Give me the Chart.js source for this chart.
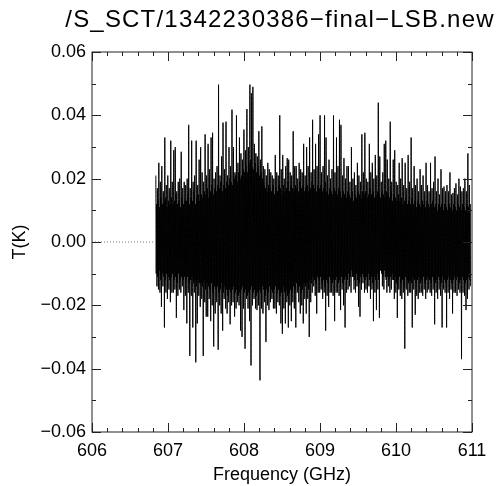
<!DOCTYPE html>
<html>
<head>
<meta charset="utf-8">
<script src="https://cdn.jsdelivr.net/npm/chart.js@4.4.1/dist/chart.umd.min.js"></script>
<style>
  html, body { margin: 0; padding: 0; background: #fff; }
  #wrap { width: 500px; height: 486px; }
</style>
</head>
<body>
<div id="wrap"><canvas id="spectrum"></canvas></div>
<script>
// spectrum title and axis text
var plotTitle = '/S_SCT/1342230386\u2212final\u2212LSB.new';
var xTitle = 'Frequency (GHz)';
var yTitle = 'T(K)';

// axis ranges / tick steps
var xMin = 606, xMax = 611, xStep = 1, xMinor = 0.2;
var yMin = -0.06, yMax = 0.06, yStep = 0.02, yMinor = 0.01;

// channel grid of the LSB spectrum (GHz)
var freqStart = 606.84, freqEnd = 610.98;

// blanked part of the band, drawn as a dotted zero line
var blankFreq = [606.0, 606.84];
var blankT = [0, 0];

// per channel bin: highest sample (K)
var peaks = [
  0.021, 0.017, 0.025, 0.019, 0.024, 0.016, 0.033, 0.018, 0.021, 0.017,
  0.032, 0.019, 0.029, 0.030, 0.016, 0.019, 0.020, 0.0285, 0.017, 0.019,
  0.018, 0.020, 0.037, 0.017, 0.032, 0.019, 0.021, 0.032, 0.018, 0.026,
  0.030, 0.022, 0.019, 0.034, 0.021, 0.031, 0.023, 0.033, 0.0345, 0.020,
  0.022, 0.024, 0.0497, 0.021, 0.027, 0.0377, 0.023, 0.038, 0.021, 0.030,
  0.024, 0.0418, 0.030, 0.022, 0.040, 0.025, 0.033, 0.028, 0.026, 0.0355,
  0.029, 0.042, 0.030, 0.0497, 0.047, 0.049, 0.031, 0.028, 0.027, 0.035,
  0.026, 0.0365, 0.024, 0.023, 0.021, 0.025, 0.023, 0.022, 0.021, 0.020,
  0.0275, 0.022, 0.021, 0.040, 0.023, 0.0275, 0.020, 0.024, 0.0265, 0.026,
  0.022, 0.021, 0.035, 0.024, 0.024, 0.020, 0.025, 0.023, 0.022, 0.031,
  0.021, 0.030, 0.024, 0.033, 0.022, 0.0386, 0.023, 0.031, 0.024, 0.034,
  0.040, 0.022, 0.024, 0.040, 0.033, 0.021, 0.026, 0.020, 0.023, 0.040,
  0.022, 0.033, 0.024, 0.0386, 0.037, 0.021, 0.0265, 0.020, 0.024, 0.024,
  0.019, 0.030, 0.020, 0.022, 0.018, 0.025, 0.021, 0.019, 0.034, 0.022,
  0.0345, 0.020, 0.019, 0.031, 0.022, 0.025, 0.020, 0.0275, 0.021, 0.044,
  0.027, 0.019, 0.022, 0.031, 0.032, 0.026, 0.020, 0.038, 0.019, 0.026,
  0.029, 0.019, 0.018, 0.025, 0.020, 0.0265, 0.018, 0.025, 0.017, 0.0275,
  0.019, 0.033, 0.017, 0.024, 0.018, 0.020, 0.016, 0.023, 0.018, 0.021,
  0.016, 0.025, 0.018, 0.016, 0.025, 0.017, 0.019, 0.027, 0.016, 0.020,
  0.015, 0.023, 0.017, 0.0175, 0.016, 0.018, 0.016, 0.022, 0.015, 0.0155,
  0.017, 0.0185, 0.015, 0.020, 0.0175, 0.016, 0.017, 0.020, 0.016, 0.028,
  0.018
];

// per channel bin: lowest sample (K)
var dips = [
  -0.014, -0.015, -0.016, -0.0205, -0.014, -0.027, -0.016, -0.018, -0.015, -0.019,
  -0.016, -0.016, -0.015, -0.024, -0.017, -0.015, -0.016, -0.014, -0.0215, -0.017,
  -0.0257, -0.016, -0.036, -0.017, -0.027, -0.016, -0.038, -0.0257, -0.017, -0.0205,
  -0.018, -0.036, -0.019, -0.0236, -0.0236, -0.018, -0.025, -0.020, -0.033, -0.0226,
  -0.019, -0.034, -0.020, -0.0226, -0.028, -0.018, -0.021, -0.0226, -0.019, -0.026,
  -0.020, -0.019, -0.0236, -0.021, -0.019, -0.020, -0.028, -0.030, -0.021, -0.0337,
  -0.018, -0.021, -0.025, -0.039, -0.020, -0.018, -0.021, -0.0215, -0.020, -0.0437,
  -0.021, -0.0226, -0.019, -0.0316, -0.020, -0.0215, -0.019, -0.018, -0.021, -0.021,
  -0.0226, -0.019, -0.020, -0.0257, -0.029, -0.021, -0.0257, -0.019, -0.027, -0.020,
  -0.025, -0.019, -0.021, -0.027, -0.016, -0.019, -0.0226, -0.020, -0.0257, -0.018,
  -0.0226, -0.018, -0.030, -0.019, -0.016, -0.014, -0.017, -0.0226, -0.016, -0.016,
  -0.015, -0.018, -0.016, -0.028, -0.017, -0.0205, -0.016, -0.016, -0.017, -0.025,
  -0.016, -0.016, -0.017, -0.0215, -0.015, -0.020, -0.027, -0.016, -0.015, -0.014,
  -0.016, -0.011, -0.015, -0.016, -0.014, -0.0205, -0.0236, -0.015, -0.013, -0.016,
  -0.015, -0.016, -0.014, -0.018, -0.015, -0.025, -0.016, -0.0215, -0.015, -0.024,
  -0.009, -0.014, -0.015, -0.011, -0.016, -0.014, -0.016, -0.015, -0.012, -0.018,
  -0.016, -0.024, -0.015, -0.017, -0.018, -0.016, -0.0337, -0.015, -0.017, -0.016,
  -0.016, -0.027, -0.015, -0.023, -0.017, -0.018, -0.016, -0.016, -0.017, -0.015,
  -0.018, -0.016, -0.015, -0.016, -0.017, -0.015, -0.026, -0.016, -0.018, -0.015,
  -0.017, -0.027, -0.015, -0.016, -0.027, -0.016, -0.018, -0.015, -0.0226, -0.016,
  -0.016, -0.017, -0.015, -0.016, -0.037, -0.016, -0.017, -0.0215, -0.018, -0.015,
  -0.014
];

// per channel bin: upper edge of the dense core (K)
var corePeaks = [
  0.012, 0.013, 0.011, 0.014, 0.012, 0.013, 0.014, 0.011, 0.013, 0.012,
  0.014, 0.012, 0.013, 0.015, 0.012, 0.013, 0.011, 0.014, 0.012, 0.013,
  0.013, 0.015, 0.012, 0.014, 0.013, 0.016, 0.012, 0.014, 0.015, 0.013,
  0.015, 0.014, 0.016, 0.015, 0.017, 0.014, 0.016, 0.018, 0.015, 0.017,
  0.016, 0.018, 0.017, 0.019, 0.016, 0.018, 0.017, 0.019, 0.018, 0.020,
  0.019, 0.018, 0.020, 0.021, 0.019, 0.022, 0.020, 0.021, 0.023, 0.022,
  0.024, 0.022, 0.025, 0.026, 0.024, 0.023, 0.025, 0.022, 0.024, 0.021,
  0.022, 0.020, 0.018, 0.017, 0.016, 0.018, 0.017, 0.016, 0.018, 0.015,
  0.017, 0.016, 0.018, 0.017, 0.015, 0.018, 0.016, 0.017, 0.019, 0.016,
  0.018, 0.017, 0.016, 0.018, 0.017, 0.016, 0.019, 0.017, 0.018, 0.016,
  0.017, 0.018, 0.016, 0.017, 0.019, 0.018, 0.017, 0.016, 0.018, 0.017,
  0.018, 0.016, 0.017, 0.019, 0.016, 0.015, 0.017, 0.016, 0.015, 0.017,
  0.016, 0.015, 0.017, 0.016, 0.014, 0.016, 0.015, 0.014, 0.016, 0.015,
  0.014, 0.016, 0.013, 0.015, 0.014, 0.016, 0.015, 0.014, 0.016, 0.015,
  0.016, 0.014, 0.015, 0.017, 0.015, 0.016, 0.014, 0.015, 0.016, 0.015,
  0.014, 0.016, 0.015, 0.014, 0.016, 0.015, 0.014, 0.016, 0.013, 0.015,
  0.014, 0.013, 0.015, 0.013, 0.014, 0.012, 0.013, 0.014, 0.012, 0.013,
  0.012, 0.014, 0.012, 0.013, 0.011, 0.013, 0.012, 0.011, 0.013, 0.012,
  0.011, 0.013, 0.012, 0.011, 0.012, 0.013, 0.011, 0.012, 0.010, 0.012,
  0.011, 0.012, 0.010, 0.012, 0.011, 0.010, 0.012, 0.011, 0.010, 0.012,
  0.011, 0.010, 0.012, 0.011, 0.010, 0.012, 0.011, 0.010, 0.012, 0.011,
  0.012
];

// per channel bin: lower edge of the dense core (K)
var coreDips = [
  -0.010, -0.011, -0.009, -0.012, -0.010, -0.011, -0.012, -0.010, -0.011, -0.012,
  -0.011, -0.010, -0.012, -0.011, -0.013, -0.010, -0.012, -0.011, -0.012, -0.011,
  -0.012, -0.011, -0.013, -0.012, -0.011, -0.013, -0.012, -0.014, -0.012, -0.013,
  -0.013, -0.014, -0.012, -0.015, -0.013, -0.014, -0.015, -0.013, -0.016, -0.014,
  -0.015, -0.014, -0.016, -0.015, -0.013, -0.016, -0.014, -0.015, -0.017, -0.015,
  -0.016, -0.015, -0.014, -0.016, -0.015, -0.017, -0.016, -0.015, -0.014, -0.016,
  -0.015, -0.017, -0.016, -0.015, -0.014, -0.016, -0.015, -0.017, -0.016, -0.015,
  -0.016, -0.014, -0.015, -0.017, -0.015, -0.016, -0.014, -0.015, -0.016, -0.015,
  -0.014, -0.016, -0.015, -0.017, -0.016, -0.014, -0.016, -0.015, -0.017, -0.016,
  -0.015, -0.016, -0.014, -0.015, -0.013, -0.015, -0.014, -0.016, -0.015, -0.013,
  -0.014, -0.013, -0.015, -0.012, -0.013, -0.011, -0.012, -0.013, -0.011, -0.012,
  -0.011, -0.013, -0.012, -0.014, -0.012, -0.013, -0.011, -0.012, -0.013, -0.012,
  -0.012, -0.011, -0.013, -0.012, -0.011, -0.013, -0.012, -0.011, -0.012, -0.010,
  -0.011, -0.009, -0.011, -0.012, -0.010, -0.012, -0.013, -0.011, -0.010, -0.011,
  -0.012, -0.011, -0.010, -0.012, -0.011, -0.013, -0.011, -0.012, -0.010, -0.012,
  -0.009, -0.010, -0.011, -0.009, -0.012, -0.011, -0.012, -0.011, -0.010, -0.012,
  -0.011, -0.013, -0.012, -0.011, -0.013, -0.012, -0.014, -0.011, -0.012, -0.013,
  -0.012, -0.013, -0.011, -0.012, -0.013, -0.012, -0.011, -0.013, -0.012, -0.011,
  -0.013, -0.012, -0.011, -0.012, -0.013, -0.011, -0.012, -0.013, -0.012, -0.011,
  -0.012, -0.013, -0.011, -0.012, -0.013, -0.012, -0.011, -0.012, -0.013, -0.012,
  -0.011, -0.012, -0.011, -0.013, -0.012, -0.011, -0.012, -0.013, -0.012, -0.011,
  -0.012
];

// the spectrum in channel order: four samples per bin
var binSamples = [peaks, coreDips, corePeaks, dips];
var nPts = peaks.length * binSamples.length;
var chanWidth = (freqEnd - freqStart) / (nPts - 1);
var spectrum = [];
for (var i = 0; i < peaks.length; i++) {
    for (var s = 0; s < binSamples.length; s++) {
        spectrum.push({ x: freqStart + (i * binSamples.length + s) * chanWidth, y: binSamples[s][i] });
    }
}
var blank = blankFreq.map(function (f, k) { return { x: f, y: blankT[k] }; });

var FONT = "'Liberation Sans', Arial, Helvetica, sans-serif";

// IDL-style frame: box with inward major/minor ticks on all four sides
var framePlugin = {
    id: 'frame',
    afterDraw: function (chart) {
        var ctx = chart.ctx, a = chart.chartArea;
        var xs = chart.scales.x, ys = chart.scales.y;
        ctx.save();
        ctx.strokeStyle = '#222';
        ctx.lineWidth = 1;
        ctx.strokeRect(a.left, a.top, a.right - a.left, a.bottom - a.top);
        ctx.beginPath();
        var nx = Math.round((xMax - xMin) / xMinor);
        for (var k = 0; k <= nx; k++) {
            var v = xMin + k * xMinor;
            var px = Math.round(xs.getPixelForValue(v)) + 0.5;
            var len = (k % Math.round(xStep / xMinor) === 0) ? 9 : 4;
            ctx.moveTo(px, a.bottom); ctx.lineTo(px, a.bottom - len);
            ctx.moveTo(px, a.top); ctx.lineTo(px, a.top + len);
        }
        var ny = Math.round((yMax - yMin) / yMinor);
        for (var j = 0; j <= ny; j++) {
            var w = yMin + j * yMinor;
            var py = Math.round(ys.getPixelForValue(w)) + 0.5;
            var ylen = (j % Math.round(yStep / yMinor) === 0) ? 9 : 4;
            ctx.moveTo(a.left, py); ctx.lineTo(a.left + ylen, py);
            ctx.moveTo(a.right, py); ctx.lineTo(a.right - ylen, py);
        }
        ctx.stroke();

        // titles
        ctx.fillStyle = '#000';
        ctx.textAlign = 'center';
        ctx.textBaseline = 'alphabetic';
        ctx.font = '24px ' + FONT;
        ctx.letterSpacing = '1.2px';
        ctx.fillText(plotTitle, 280, 27);
        ctx.letterSpacing = '0px';
        ctx.font = '18px ' + FONT;
        ctx.fillText(xTitle, (a.left + a.right) / 2, 480);
        ctx.translate(25, (a.top + a.bottom) / 2);
        ctx.rotate(-Math.PI / 2);
        ctx.fillText(yTitle, 0, 0);
        ctx.restore();
    }
};

function fmtTick(value) {
    return Number(value).toFixed(2).replace('-', '\u2212');
}

var ctx = document.getElementById('spectrum').getContext('2d');
var spectrumChart = new Chart(ctx, {
    type: 'line',
    data: {
        datasets: [{
            label: 'blanked',
            data: blank,
            borderColor: '#777',
            borderWidth: 1,
            borderDash: [1, 2],
            pointRadius: 0
        }, {
            label: 'LSB',
            data: spectrum,
            borderColor: '#000',
            borderWidth: 1,
            pointRadius: 0,
            // tiny tension keeps segments straight but draws every channel
            // (the zero-tension fast path merges points per pixel column)
            tension: 0.001
        }]
    },
    options: {
        responsive: true,
        maintainAspectRatio: false,
        animation: false,
        events: [],
        layout: {
            padding: { top: 52, right: 28, left: 0, bottom: 0 }
        },
        plugins: {
            legend: { display: false },
            title: { display: false },
            tooltip: { enabled: false }
        },
        scales: {
            x: {
                type: 'linear',
                min: xMin,
                max: xMax,
                grid: { display: true, drawOnChartArea: false, drawTicks: false },
                border: { display: false },
                ticks: {
                    stepSize: xStep,
                    padding: 8,
                    color: '#000',
                    maxRotation: 0,
                    font: { family: FONT, size: 18 },
                    callback: function (v) { return String(v); }
                },
                afterFit: function (scale) { scale.height = 54; }
            },
            y: {
                type: 'linear',
                min: yMin,
                max: yMax,
                grid: { display: true, drawOnChartArea: false, drawTicks: false },
                border: { display: false },
                ticks: {
                    stepSize: yStep,
                    padding: 6,
                    color: '#000',
                    font: { family: FONT, size: 18 },
                    callback: fmtTick
                },
                afterFit: function (scale) { scale.width = 92; }
            }
        }
    },
    plugins: [framePlugin]
});
</script>
</body>
</html>
